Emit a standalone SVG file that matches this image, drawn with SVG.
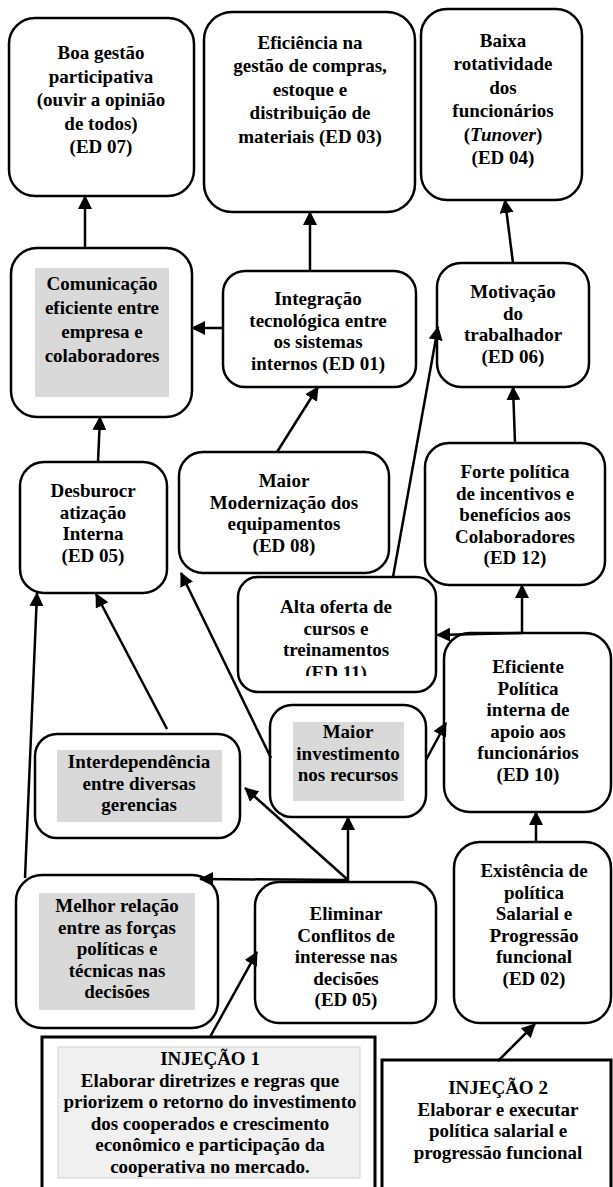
<svg xmlns="http://www.w3.org/2000/svg" width="613" height="1187" viewBox="0 0 613 1187">
<style>
.n{fill:#fff;stroke:#000;stroke-width:2.5}
.g{fill:#d9d9d9;stroke:none}
.gl{fill:#f0f0f0;stroke:#d0d0d0;stroke-width:1}
.inj{fill:#fff;stroke:#000;stroke-width:3}
text{font-family:"Liberation Serif","Times New Roman",serif;font-weight:bold;font-size:19px;text-anchor:middle;fill:#000}
.c line{stroke:#000;stroke-width:2.5;marker-end:url(#ah)}
</style>
<defs>
<marker id="ah" viewBox="0 0 14 14" refX="13" refY="7" markerWidth="14" markerHeight="14" markerUnits="userSpaceOnUse" orient="auto">
<path d="M0,0 L14,7 L0,14 z" fill="#000"/>
</marker>
<clipPath id="clip11"><rect x="-120" y="577" width="240" height="99"/></clipPath>
</defs>
<rect width="613" height="1187" fill="#fff"/>

<g id="ed07">
<rect class="n" x="9" y="18" width="185" height="178" rx="26"/>
<g transform="translate(101 0)">
<text x="0" y="59">Boa gestão</text>
<text x="0" y="83">participativa</text>
<text x="0" y="106">(ouvir a opinião</text>
<text x="0" y="130">de todos)</text>
<text x="0" y="153">(ED 07)</text>
</g>
</g>
<g id="ed03">
<rect class="n" x="204" y="12" width="211" height="200" rx="28"/>
<g transform="translate(310 0)">
<text x="0" y="49">Eficiência na</text>
<text x="0" y="72">gestão de compras,</text>
<text x="0" y="96">estoque e</text>
<text x="0" y="119">distribuição de</text>
<text x="0" y="143">materiais (ED 03)</text>
</g>
</g>
<g id="ed04">
<rect class="n" x="421" y="9" width="161" height="191" rx="26"/>
<g transform="translate(503 0)">
<text x="0" y="47">Baixa</text>
<text x="0" y="70">rotatividade</text>
<text x="0" y="94">dos</text>
<text x="0" y="117">funcionários</text>
<text x="0" y="141">(<tspan font-style="italic">Tunover</tspan>)</text>
<text x="0" y="164">(ED 04)</text>
</g>
</g>
<g id="comunicacao">
<rect class="n" x="11" y="248" width="181" height="169" rx="26"/>
<rect class="g" x="35" y="268" width="134" height="129"/>
<g transform="translate(102 0)">
<text x="0" y="290">Comunicação</text>
<text x="0" y="314">eficiente entre</text>
<text x="0" y="338">empresa e</text>
<text x="0" y="362">colaboradores</text>
</g>
</g>
<g id="ed01">
<rect class="n" x="223" y="271" width="193" height="116" rx="22"/>
<g transform="translate(318 0)">
<text x="0" y="305">Integração</text>
<text x="0" y="326.5">tecnológica entre</text>
<text x="0" y="348">os sistemas</text>
<text x="0" y="369.5">internos (ED 01)</text>
</g>
</g>
<g id="ed06">
<rect class="n" x="437" y="263" width="152" height="124" rx="24"/>
<g transform="translate(513 0)">
<text x="0" y="298">Motivação</text>
<text x="0" y="319.5">do</text>
<text x="0" y="341">trabalhador</text>
<text x="0" y="362.5">(ED 06)</text>
</g>
</g>
<g id="ed05a">
<rect class="n" x="20" y="462" width="147" height="131" rx="24"/>
<g transform="translate(93 0)">
<text x="0" y="497">Desburocr</text>
<text x="0" y="518.5">atização</text>
<text x="0" y="540">Interna</text>
<text x="0" y="561.5">(ED 05)</text>
</g>
</g>
<g id="ed08">
<rect class="n" x="179" y="452" width="210" height="121" rx="24"/>
<g transform="translate(284 0)">
<text x="0" y="487">Maior</text>
<text x="0" y="508.5">Modernização dos</text>
<text x="0" y="530">equipamentos</text>
<text x="0" y="551.5">(ED 08)</text>
</g>
</g>
<g id="ed12">
<rect class="n" x="425" y="443" width="180" height="142" rx="24"/>
<g transform="translate(515 0)">
<text x="0" y="478">Forte política</text>
<text x="0" y="499.5">de incentivos e</text>
<text x="0" y="521">benefícios aos</text>
<text x="0" y="542.5">Colaboradores</text>
<text x="0" y="564">(ED 12)</text>
</g>
</g>
<g id="ed11">
<rect class="n" x="238" y="577" width="198" height="115" rx="20"/>
<g transform="translate(336 0)">
<g clip-path="url(#clip11)">
<text x="0" y="613">Alta oferta de</text>
<text x="0" y="634.5">cursos e</text>
<text x="0" y="656">treinamentos</text>
<text x="0" y="679">(ED 11)</text>
</g>
</g>
</g>
<g id="ed10">
<rect class="n" x="444" y="633" width="167" height="179" rx="26"/>
<g transform="translate(528 0)">
<text x="0" y="673">Eficiente</text>
<text x="0" y="694.5">Política</text>
<text x="0" y="716">interna de</text>
<text x="0" y="737.5">apoio aos</text>
<text x="0" y="759">funcionários</text>
<text x="0" y="780.5">(ED 10)</text>
</g>
</g>
<g id="investimento">
<rect class="n" x="270" y="705" width="156" height="112" rx="22"/>
<rect class="g" x="293" y="722" width="111" height="79"/>
<g transform="translate(348 0)">
<text x="0" y="738">Maior</text>
<text x="0" y="759.5">investimento</text>
<text x="0" y="781">nos recursos</text>
</g>
</g>
<g id="interdependencia">
<rect class="n" x="35" y="734" width="205" height="104" rx="22"/>
<rect class="g" x="57" y="750" width="165" height="72"/>
<g transform="translate(139 0)">
<text x="0" y="768">Interdependência</text>
<text x="0" y="789.5">entre diversas</text>
<text x="0" y="811">gerencias</text>
</g>
</g>
<g id="melhor">
<rect class="n" x="16" y="875" width="202" height="153" rx="26"/>
<rect class="g" x="39" y="893" width="156" height="117"/>
<g transform="translate(117 0)">
<text x="0" y="912">Melhor relação</text>
<text x="0" y="933.5">entre as forças</text>
<text x="0" y="955">políticas e</text>
<text x="0" y="976.5">técnicas nas</text>
<text x="0" y="998">decisões</text>
</g>
</g>
<g id="ed05b">
<rect class="n" x="255" y="882" width="181" height="141" rx="24"/>
<g transform="translate(346 0)">
<text x="0" y="920">Eliminar</text>
<text x="0" y="941.5">Conflitos de</text>
<text x="0" y="963">interesse nas</text>
<text x="0" y="984.5">decisões</text>
<text x="0" y="1006">(ED 05)</text>
</g>
</g>
<g id="ed02">
<rect class="n" x="454" y="842" width="157" height="181" rx="26"/>
<g transform="translate(534 0)">
<text x="0" y="877">Existência de</text>
<text x="0" y="898.5">política</text>
<text x="0" y="920">Salarial e</text>
<text x="0" y="941.5">Progressão</text>
<text x="0" y="963">funcional</text>
<text x="0" y="984.5">(ED 02)</text>
</g>
</g>
<g id="injecao1">
<rect class="inj" x="42" y="1037" width="333" height="170"/>
<rect class="gl" x="58" y="1047" width="302" height="131"/>
<g transform="translate(210 0)">
<text x="0" y="1065">INJEÇÃO 1</text>
<text x="0" y="1086.6">Elaborar diretrizes e regras que</text>
<text x="0" y="1108.2">priorizem o retorno do investimento</text>
<text x="0" y="1129.8">dos cooperados e crescimento</text>
<text x="0" y="1151.4">econômico e participação da</text>
<text x="0" y="1173">cooperativa no mercado.</text>
</g>
</g>
<g id="injecao2">
<rect class="inj" x="382" y="1060" width="229" height="150"/>
<g transform="translate(498 0)">
<text x="0" y="1094">INJEÇÃO 2</text>
<text x="0" y="1115.5">Elaborar e executar</text>
<text x="0" y="1137">política salarial e</text>
<text x="0" y="1158.5">progressão funcional</text>
</g>
</g>

<g id="connectors" class="c">
<line x1="85" y1="248" x2="85" y2="196"/>
<line x1="310" y1="271" x2="310" y2="212"/>
<line x1="513" y1="263" x2="505" y2="200"/>
<line x1="223" y1="328" x2="192" y2="328"/>
<line x1="98" y1="462" x2="100" y2="417"/>
<line x1="277" y1="452" x2="318" y2="387"/>
<line x1="393" y1="577" x2="438" y2="327"/>
<line x1="515" y1="443" x2="513" y2="387"/>
<line x1="25" y1="878" x2="37" y2="593"/>
<line x1="167" y1="729" x2="96" y2="594"/>
<line x1="271" y1="758" x2="181" y2="573"/>
<line x1="522" y1="633" x2="437" y2="635"/>
<line x1="522" y1="633" x2="522" y2="585"/>
<line x1="426" y1="760" x2="446" y2="723"/>
<line x1="348" y1="882" x2="348" y2="817"/>
<line x1="348" y1="880" x2="245" y2="788"/>
<line x1="348" y1="880" x2="200" y2="879"/>
<line x1="536" y1="842" x2="536" y2="812"/>
<line x1="210" y1="1037" x2="257" y2="952"/>
<line x1="498" y1="1061" x2="535" y2="1024"/>
</g>
</svg>
